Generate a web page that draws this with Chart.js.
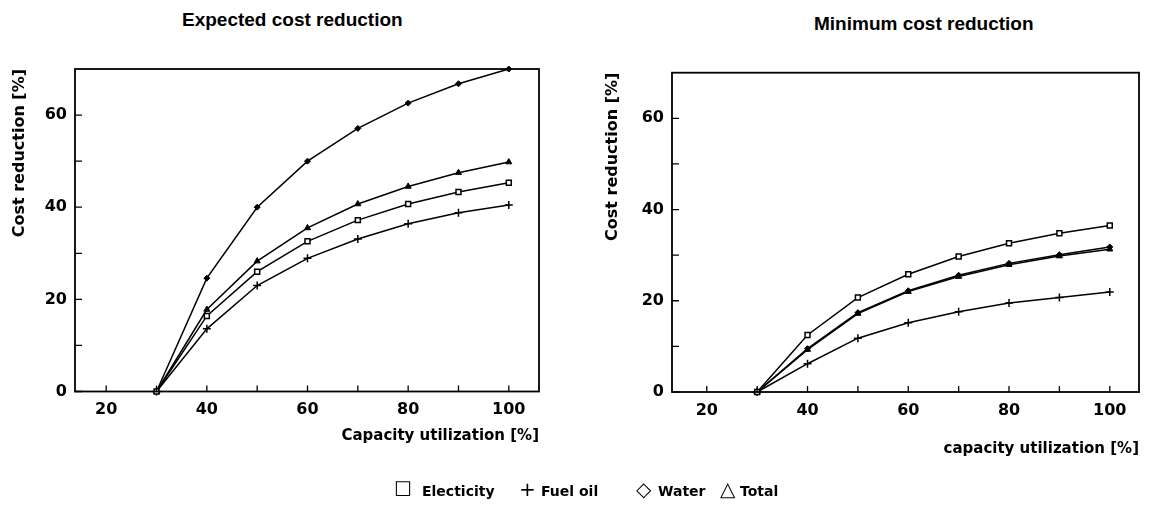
<!DOCTYPE html>
<html>
<head>
<meta charset="utf-8">
<script src="https://cdn.jsdelivr.net/npm/chart.js@4.4.0/dist/chart.umd.min.js"></script>
<style>
  body { margin: 0; background: #fff; width: 1154px; height: 514px; overflow: hidden; position: relative; }
  .box { position: absolute; top: 0; width: 577px; height: 514px; }
  #leftBox { left: 0; }
  #rightBox { left: 577px; }
  .heading { position: absolute; font-family: "Liberation Sans", Arial, sans-serif; font-weight: bold; font-size: 19px; color: #000; white-space: nowrap; line-height: 22px; }
  #legend { position: absolute; top: 477px; left: 0; width: 1154px; height: 24px; font-family: "DejaVu Sans", sans-serif; font-weight: bold; font-size: 14px; color: #000; white-space: nowrap; }
  #legend .item { position: absolute; top: 0; line-height: 24px; }
  #legend .sym { font-weight: normal; font-size: 20px; display: inline-block; }
</style>
</head>
<body>
<div class="heading" style="left:182px; top:9px;">Expected cost reduction</div>
<div class="heading" style="left:814px; top:13px;">Minimum cost reduction</div>
<div class="box" id="leftBox"><canvas id="expectedChart"></canvas></div>
<div class="box" id="rightBox"><canvas id="minimumChart"></canvas></div>
<div id="legend"></div>

<script>
'use strict';

// capacity utilization [%]
const capacity = [30, 40, 50, 60, 70, 80, 90, 100];
const seriesNames = ['Electicity', 'Fuel oil', 'Water', 'Total'];
const legendSymbols = ['\u2610', '+', '\u25C7', '\u25B3'];

// expected cost reduction [%]
const expElectricity = [0, 16.4, 26.0, 32.6, 37.2, 40.7, 43.3, 45.3];
const expFuelOil = [0, 13.6, 23.0, 28.9, 33.1, 36.4, 38.8, 40.5];
const expWater = [0, 24.6, 40.0, 50.0, 57.1, 62.6, 66.8, 70.0];
const expTotal = [0, 17.8, 28.3, 35.5, 40.7, 44.5, 47.5, 49.8];

// minimum cost reduction [%]
const minElectricity = [0, 12.5, 20.7, 25.8, 29.7, 32.6, 34.8, 36.5];
const minFuelOil = [0, 6.2, 11.8, 15.2, 17.6, 19.5, 20.7, 21.9];
const minWater = [0, 9.5, 17.4, 22.2, 25.6, 28.2, 30.1, 31.8];
const minTotal = [0, 9.3, 17.2, 22.0, 25.3, 27.9, 29.8, 31.3];

const xTickValues = [20, 30, 40, 50, 60, 70, 80, 90, 100];
const yTickValues = [0, 10, 20, 30, 40, 50, 60];

const tickFont = { family: 'DejaVu Sans', weight: 'bold', size: 16 };
const titleFont = { family: 'DejaVu Sans', weight: 'bold', size: 15 };

function toPoints(values) {
  return capacity.map(function(c, i) {
    return { x: c, y: values[i] };
  });
}

function makeDatasets(elec, fuel, water, total) {
  let common = { borderColor: '#000', borderWidth: 1.5, fill: false, tension: 0, clip: false };
  return [
    Object.assign({ label: seriesNames[0], data: toPoints(elec), pointStyle: 'rect', pointRadius: 3.5,
      pointBackgroundColor: '#fff', pointBorderColor: '#000', pointBorderWidth: 1.5 }, common),
    Object.assign({ label: seriesNames[1], data: toPoints(fuel), pointStyle: 'cross', pointRadius: 4,
      pointBackgroundColor: '#000', pointBorderColor: '#000', pointBorderWidth: 1.5 }, common),
    Object.assign({ label: seriesNames[2], data: toPoints(water), pointStyle: 'rectRot', pointRadius: 3,
      pointBackgroundColor: '#000', pointBorderColor: '#000', pointBorderWidth: 1 }, common),
    Object.assign({ label: seriesNames[3], data: toPoints(total), pointStyle: 'triangle', pointRadius: 3.5,
      pointBackgroundColor: '#000', pointBorderColor: '#000', pointBorderWidth: 1 }, common)
  ];
}

// box round the plot and short ticks pointing inward
const frameTicks = {
  id: 'frameTicks',
  afterDraw: function(chart) {
    let ctx = chart.ctx;
    let area = chart.chartArea;
    let xs = chart.scales.x;
    let ys = chart.scales.y;
    ctx.save();
    ctx.strokeStyle = '#000';
    ctx.lineWidth = 1.8;
    ctx.strokeRect(area.left, area.top, area.right - area.left, area.bottom - area.top);
    ctx.lineWidth = 1.3;
    ctx.beginPath();
    xs.ticks.forEach(function(t) {
      let px = xs.getPixelForValue(t.value);
      ctx.moveTo(px, area.bottom);
      ctx.lineTo(px, area.bottom - 6);
    });
    ys.ticks.forEach(function(t) {
      let py = ys.getPixelForValue(t.value);
      ctx.moveTo(area.left, py);
      ctx.lineTo(area.left + 7, py);
    });
    ctx.stroke();
    ctx.restore();
  }
};

function makeOptions(cfg) {
  return {
    responsive: false,
    animation: false,
    layout: { padding: { left: 0, right: cfg.padRight, top: cfg.padTop, bottom: cfg.padBottom } },
    plugins: { legend: { display: false }, tooltip: { enabled: false }, title: { display: false } },
    scales: {
      x: {
        type: 'linear',
        min: cfg.xMin,
        max: cfg.xMax,
        afterBuildTicks: function(scale) {
          scale.ticks = xTickValues.map(function(v) { return { value: v }; });
        },
        afterFit: function(scale) { scale.height = cfg.xHeight; },
        ticks: {
          color: '#000', font: tickFont, padding: 9, maxRotation: 0, autoSkip: false,
          callback: function(v) { return v % 20 === 0 ? String(v) : ''; }
        },
        grid: { display: false, drawTicks: false },
        border: { display: false },
        title: { display: true, text: cfg.xTitle, align: 'end', color: '#000', font: titleFont,
          padding: { top: 0, bottom: cfg.xTitlePad } }
      },
      y: {
        type: 'linear',
        min: 0,
        max: 70,
        afterBuildTicks: function(scale) {
          scale.ticks = yTickValues.map(function(v) { return { value: v }; });
        },
        afterFit: function(scale) { scale.width = cfg.yWidth; },
        ticks: {
          color: '#000', font: tickFont, padding: 8, autoSkip: false,
          callback: function(v) { return v % 20 === 0 ? String(v) : ''; }
        },
        grid: { display: false, drawTicks: false },
        border: { display: false },
        title: { display: true, text: 'Cost reduction [%]', align: 'end', color: '#000',
          font: { family: 'DejaVu Sans', weight: 'bold', size: 16 },
          padding: { top: cfg.yTitlePad, bottom: 0 } }
      }
    }
  };
}

function setCanvasSize(id) {
  let canvas = document.getElementById(id);
  canvas.width = 577;
  canvas.height = 514;
  canvas.style.width = '577px';
  canvas.style.height = '514px';
  return canvas;
}

new Chart(setCanvasSize('expectedChart'), {
  type: 'line',
  data: { datasets: makeDatasets(expElectricity, expFuelOil, expWater, expTotal) },
  options: makeOptions({
    xMin: 13.8, xMax: 106, padRight: 38, padTop: 69, padBottom: 62.5,
    xHeight: 60, yWidth: 75, xTitle: 'Capacity utilization [%]', xTitlePad: 6, yTitlePad: 10
  }),
  plugins: [frameTicks]
});

new Chart(setCanvasSize('minimumChart'), {
  type: 'line',
  data: { datasets: makeDatasets(minElectricity, minFuelOil, minWater, minTotal) },
  options: makeOptions({
    xMin: 13.1, xMax: 105.8, padRight: 15, padTop: 72.7, padBottom: 52,
    xHeight: 70, yWidth: 95, xTitle: 'capacity utilization [%]', xTitlePad: 4, yTitlePad: 26
  }),
  plugins: [frameTicks]
});

// shared legend under both plots
let $legend = document.getElementById('legend');
let legendLeft = [394, 519, 636, 720];
let symbolWidth = [28, 22, 22, 20];
for(let i = 0; i < seriesNames.length; i++) {
  let item = document.createElement('span');
  item.className = 'item';
  item.style.left = legendLeft[i] + 'px';
  item.innerHTML = '<span class="sym" style="width:' + symbolWidth[i] + 'px">' + legendSymbols[i] + '</span>' + seriesNames[i];
  $legend.appendChild(item);
}
</script>
</body>
</html>
